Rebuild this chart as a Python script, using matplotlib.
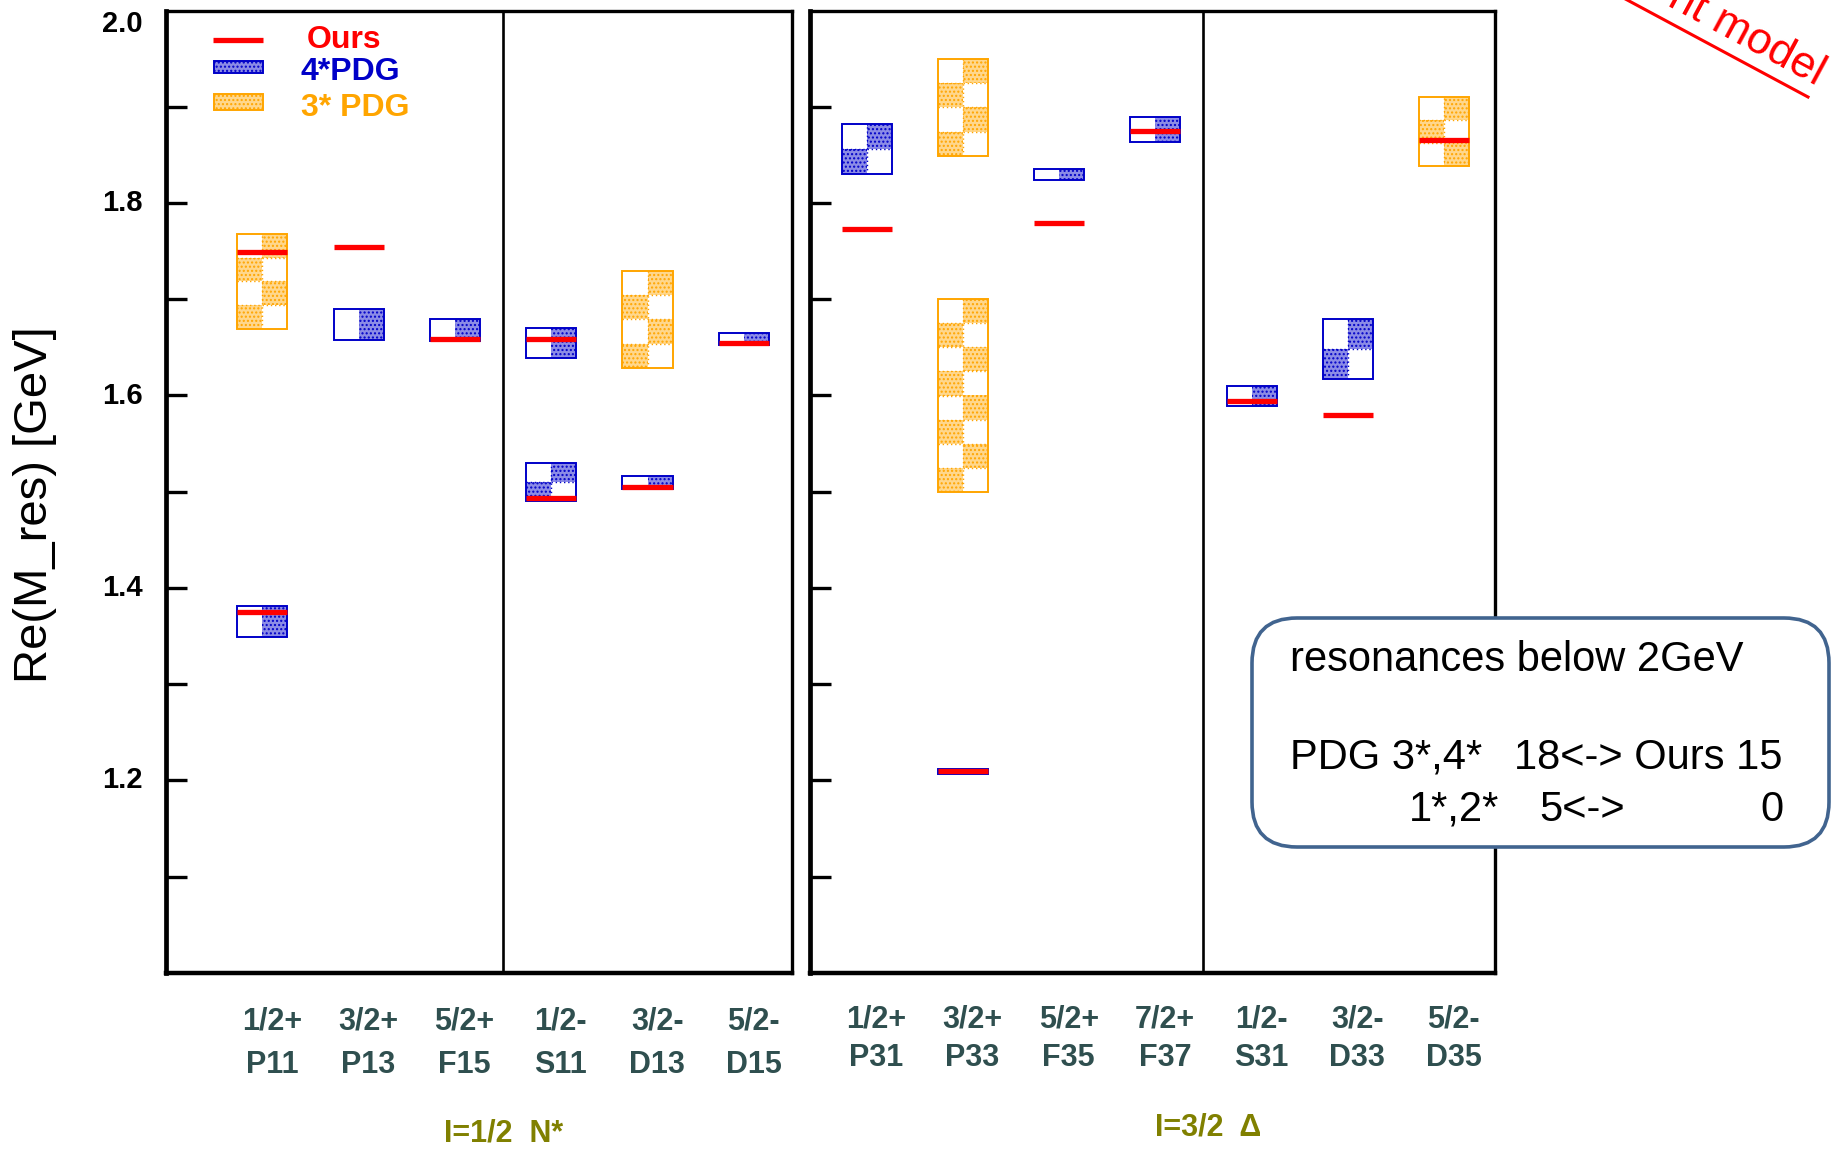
import matplotlib
matplotlib.use("Agg")
import matplotlib.pyplot as plt
from matplotlib.patches import Rectangle, FancyBboxPatch
from matplotlib.transforms import blended_transform_factory
from matplotlib.colors import to_rgb
import numpy as np

plt.rcParams['font.family'] = ['Liberation Sans', 'DejaVu Sans']
plt.rcParams['hatch.linewidth'] = 1.0

# ---------------- data ----------------
# I = 1/2 nucleon resonances
n_waves = ["P11", "P13", "F15", "S11", "D13", "D15"]
n_jp = ["1/2+", "3/2+", "5/2+", "1/2-", "3/2-", "5/2-"]
n_ours = [[1.375, 1.749], [1.754], [1.659], [1.494, 1.659], [1.505], [1.655]]
n_pdg4 = [[(1.349, 1.381)], [(1.658, 1.690)], [(1.657, 1.680)],
          [(1.490, 1.530), (1.639, 1.670)], [(1.503, 1.516)], [(1.652, 1.665)]]
n_pdg3 = [[(1.669, 1.768)], [], [], [], [(1.629, 1.729)], []]

# I = 3/2 Delta resonances
d_waves = ["P31", "P33", "F35", "F37", "S31", "D33", "D35"]
d_jp = ["1/2+", "3/2+", "5/2+", "7/2+", "1/2-", "3/2-", "5/2-"]
d_ours = [[1.773], [1.210], [1.779], [1.875], [1.594], [1.580], [1.865]]
d_pdg4 = [[(1.830, 1.882)], [(1.207, 1.212)], [(1.824, 1.835)], [(1.863, 1.889)],
          [(1.589, 1.610)], [(1.617, 1.679)], []]
d_pdg3 = [[], [(1.500, 1.700), (1.849, 1.950)], [], [], [], [], [(1.838, 1.910)]]

y_ticks_major = [1.2, 1.4, 1.6, 1.8, 2.0]

# ---------------- style ----------------
RED = "#ff0000"
BLUE = "#0000c8"
ORANGE = "#ffa500"
SLATE = "#2f4f4f"
OLIVE = "#808000"
HALF = 0.26


def tint(c, f=0.5):
    r, g, b = to_rgb(c)
    return (r + (1 - r) * f, g + (1 - g) * f, b + (1 - b) * f)


W, H = 1839, 1150
fig = plt.figure(figsize=(W / 100, H / 100), dpi=100)


def px_axes(x0, y0, x1, y1, **kw):
    return fig.add_axes([x0 / W, 1 - y1 / H, (x1 - x0) / W, (y1 - y0) / H], **kw)


axN = px_axes(166, 10.5, 792, 973)
axD = px_axes(810, 10.5, 1495, 973)
ov = px_axes(0, 0, W, H, zorder=10)
ov.set_xlim(0, W)
ov.set_ylim(H, 0)
ov.axis("off")


def checker_box(ax, x, lo, hi, color):
    """Outlined band with a stippled checkerboard fill."""
    n = max(1, int(round((hi - lo) / 0.025)))
    h = (hi - lo) / n
    for i in range(n):
        top = hi - i * h
        x0 = x if i % 2 == 0 else x - HALF
        ax.add_patch(Rectangle((x0, top - h), HALF, h, facecolor=tint(color, 0.55),
                               edgecolor=color, hatch="....", lw=0, zorder=2))
        if i > 0:
            ax.plot([x - HALF, x + HALF], [top, top], ls=(0, (1, 2)), color=color,
                    lw=1.0, zorder=2)
    if n > 1:
        ax.plot([x, x], [lo, hi], ls=(0, (1, 2)), color=color, lw=1.0, zorder=2)
    ax.add_patch(Rectangle((x - HALF, lo), 2 * HALF, hi - lo, facecolor="none",
                           edgecolor=color, lw=1.4, zorder=3))


def draw_panel(ax, xlim, divider, ours, pdg4, pdg3):
    ax.set_xlim(*xlim)
    ax.set_ylim(1.0, 2.0)
    for i in range(len(ours)):
        x = i + 1
        for lo, hi in pdg3[i]:
            checker_box(ax, x, lo, hi, ORANGE)
        for lo, hi in pdg4[i]:
            checker_box(ax, x, lo, hi, BLUE)
        for m in ours[i]:
            ax.plot([x - HALF, x + HALF], [m, m], color=RED, lw=3.8,
                    solid_capstyle="butt", zorder=4)
    ax.axvline(divider, color="black", lw=1.9, zorder=1)
    ax.set_xticks([])
    ax.set_yticks(np.arange(1.1, 1.95, 0.1))
    ax.tick_params(axis="y", direction="in", length=15, width=2.4, labelleft=False)
    for s in ax.spines.values():
        s.set_linewidth(2.4)
    ax.spines["left"].set_linewidth(3.4)
    ax.spines["bottom"].set_linewidth(3.2)


draw_panel(axN, (0, 6.5), 3.5, n_ours, n_pdg4, n_pdg3)
draw_panel(axD, (0.41, 7.53), 4.5, d_ours, d_pdg4, d_pdg3)

# y tick labels on the left panel
trY = blended_transform_factory(axN.transAxes, axN.transData)
for v in y_ticks_major:
    axN.text(-0.037, v, f"{v:.1f}", transform=trY, ha="right",
             va="top" if v >= 2.0 else "center", fontsize=21, fontweight="bold")

# y axis title
ov.text(35, 505, "Re(M_res) [GeV]", rotation=90, fontsize=34, ha="center", va="center")

# category labels under each panel
for ax, waves, jps, y1, y2 in [(axN, n_waves, n_jp, 1021, 1065),
                               (axD, d_waves, d_jp, 1020, 1058)]:
    tr = blended_transform_factory(ax.transData, ov.transData)
    for i, (w, jp) in enumerate(zip(waves, jps)):
        ov.text(i + 1.1, y1, jp, transform=tr, ha="center", va="center",
                fontsize=22, fontweight="bold", color=SLATE)
        ov.text(i + 1.1, y2, w, transform=tr, ha="center", va="center",
                fontsize=22, fontweight="bold", color=SLATE)

ov.text(3.5, 1133, "I=1/2  N*", transform=blended_transform_factory(axN.transData, ov.transData),
        ha="center", va="center", fontsize=22, fontweight="bold", color=OLIVE)
ov.text(4.55, 1127, "I=3/2  Δ", transform=blended_transform_factory(axD.transData, ov.transData),
        ha="center", va="center", fontsize=22, fontweight="bold", color=OLIVE)

# legend
ov.plot([213, 263], [40, 40], color=RED, lw=3.8, solid_capstyle="butt")
ov.add_patch(Rectangle((214, 61), 49, 12, facecolor=tint(BLUE, 0.55), edgecolor=BLUE,
                       hatch="....", lw=1.4))
ov.add_patch(Rectangle((214, 94), 49, 16, facecolor=tint(ORANGE, 0.55), edgecolor=ORANGE,
                       hatch="....", lw=1.4))
ov.text(307, 40, "Ours", color=RED, fontsize=23, fontweight="bold", va="center")
ov.text(301, 72, "4*PDG", color=BLUE, fontsize=23, fontweight="bold", va="center")
ov.text(301, 108, "3* PDG", color=ORANGE, fontsize=23, fontweight="bold", va="center")

# summary box
ov.add_patch(FancyBboxPatch((1252, 618), 577, 229,
                            boxstyle="round,pad=0,rounding_size=45",
                            facecolor="white", edgecolor="#41648f", lw=2.6, zorder=5))
fs = 30
ov.text(1290, 660, "resonances below 2GeV", fontsize=fs, va="center", zorder=6)
ov.text(1290, 758, "PDG 3*,4*", fontsize=fs, va="center", zorder=6)
ov.text(1514, 758, "18<-> Ours 15", fontsize=fs, va="center", zorder=6)
ov.text(1409, 810, "1*,2*", fontsize=fs, va="center", zorder=6)
ov.text(1539, 810, "5<->", fontsize=fs, va="center", zorder=6)
ov.text(1784, 810, "0", fontsize=fs, va="center", ha="right", zorder=6)

# rotated, underlined caption at the upper right corner
ov.text(1816, 86, "nt model", rotation=-28.3, rotation_mode="anchor", ha="right",
        va="baseline", fontsize=32, color=RED)
ov.plot([1590, 1808], [-20, 97], color=RED, lw=2.2)

fig.savefig("out.png", dpi=100, facecolor="white")
